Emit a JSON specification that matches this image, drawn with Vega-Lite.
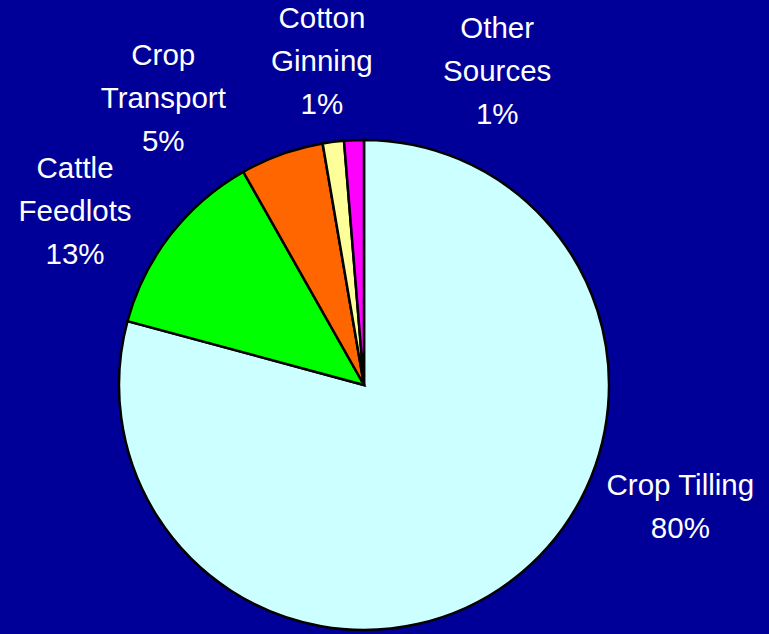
{
  "$schema": "https://vega.github.io/schema/vega-lite/v6.json",
  "width": 728,
  "height": 490,
  "autosize": {"type": "none"},
  "padding": {"left": 0, "top": 140, "right": 41, "bottom": 4},
  "background": "#000099",
  "view": {"stroke": null},
  "data": {
    "values": [
      {"source": "Crop Tilling", "value": 79.2, "order": 1, "label": "Crop Tilling\n80%"},
      {"source": "Cattle Feedlots", "value": 12.6, "order": 2, "label": "Cattle\nFeedlots\n13%"},
      {"source": "Crop Transport", "value": 5.5, "order": 3, "label": "Crop\nTransport\n5%"},
      {"source": "Cotton Ginning", "value": 1.4, "order": 4, "label": "Cotton\nGinning\n1%"},
      {"source": "Other Sources", "value": 1.3, "order": 5, "label": "Other\nSources\n1%"}
    ]
  },
  "encoding": {
    "theta": {"field": "value", "type": "quantitative", "stack": true},
    "order": {"field": "order", "type": "quantitative"}
  },
  "layer": [
    {
      "mark": {"type": "arc", "stroke": "#000000", "strokeWidth": 2.5},
      "encoding": {
        "color": {
          "field": "source",
          "type": "nominal",
          "legend": null,
          "scale": {
            "domain": ["Crop Tilling", "Cattle Feedlots", "Crop Transport", "Cotton Ginning", "Other Sources"],
            "range": ["#CCFFFF", "#00FF00", "#FF6600", "#FFFF99", "#FF00FF"]
          }
        }
      }
    },
    {
      "mark": {"type": "text", "radius": 332, "thetaOffset": -0.609, "lineBreak": "\n", "align": "center", "baseline": "middle", "font": "Liberation Sans", "fontSize": 29.5, "lineHeight": 43, "color": "#FFFFFF"},
      "encoding": {"text": {"condition": {"test": "datum.source == 'Crop Tilling'", "field": "label", "type": "nominal"}, "value": ""}}
    },
    {
      "mark": {"type": "text", "radius": 361, "thetaOffset": -0.017, "lineBreak": "\n", "align": "center", "baseline": "middle", "font": "Liberation Sans", "fontSize": 29.5, "lineHeight": 43, "color": "#FFFFFF"},
      "encoding": {"text": {"condition": {"test": "datum.source == 'Cattle Feedlots'", "field": "label", "type": "nominal"}, "value": ""}}
    },
    {
      "mark": {"type": "text", "radius": 385, "thetaOffset": -0.206, "lineBreak": "\n", "align": "center", "baseline": "middle", "font": "Liberation Sans", "fontSize": 29.5, "lineHeight": 43, "color": "#FFFFFF"},
      "encoding": {"text": {"condition": {"test": "datum.source == 'Crop Transport'", "field": "label", "type": "nominal"}, "value": ""}}
    },
    {
      "mark": {"type": "text", "radius": 368, "thetaOffset": 0.011, "lineBreak": "\n", "align": "center", "baseline": "middle", "font": "Liberation Sans", "fontSize": 29.5, "lineHeight": 43, "color": "#FFFFFF"},
      "encoding": {"text": {"condition": {"test": "datum.source == 'Cotton Ginning'", "field": "label", "type": "nominal"}, "value": ""}}
    },
    {
      "mark": {"type": "text", "radius": 380, "thetaOffset": 0.399, "lineBreak": "\n", "align": "center", "baseline": "middle", "font": "Liberation Sans", "fontSize": 29.5, "lineHeight": 43, "color": "#FFFFFF"},
      "encoding": {"text": {"condition": {"test": "datum.source == 'Other Sources'", "field": "label", "type": "nominal"}, "value": ""}}
    }
  ]
}
